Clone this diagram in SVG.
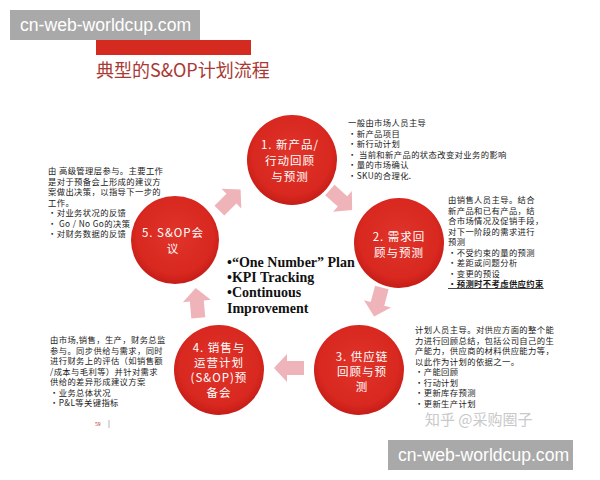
<svg xmlns="http://www.w3.org/2000/svg" width="600" height="480" viewBox="0 0 600 480">
<style>
.wm{fill:#a9a9a9}
.wmt{font-family:"Liberation Sans",Arial,sans-serif;font-size:17.6px;fill:#ffffff}
.title{font-family:"Noto Sans CJK SC",sans-serif;font-size:18px;fill:#a83a35}
.side{font-family:"Noto Sans CJK SC","Liberation Serif",serif;font-size:8.3px;fill:#1a1a1a;letter-spacing:0.4px}
.ct{font-family:"Noto Sans CJK SC","Liberation Serif",serif;font-size:11.5px;fill:#ffffff;text-anchor:middle;letter-spacing:1px}
.center{font-family:"Liberation Serif",serif;font-size:14px;font-weight:bold;fill:#111111}
.arr{fill:#eeb4ba}
.node circle{fill:url(#rg)}
</style>
<defs>
<radialGradient id="rg" cx="50%" cy="45%" r="55%">
<stop offset="0" stop-color="#e0342a"/>
<stop offset="0.8" stop-color="#d8281f"/>
<stop offset="1" stop-color="#c51d18"/>
</radialGradient>
<polygon id="ar" points="-15,-7 2,-7 2,-14 15,0 2,14 2,7 -15,7"/>
</defs>
<rect width="600" height="480" fill="#ffffff"/>
<rect x="96" y="40" width="155" height="15" fill="#d42a1f"/>
<text class="title" x="96" y="77">典型的S&amp;OP计划流程</text>

<g id="connectors">
<use href="#ar" class="arr" transform="translate(230,200) rotate(-45)"/>
<use href="#ar" class="arr" transform="translate(341,200) rotate(42)"/>
<use href="#ar" class="arr" transform="translate(378,302) rotate(105)"/>
<use href="#ar" class="arr" transform="translate(289,368) rotate(180)"/>
<use href="#ar" class="arr" transform="translate(197,303) rotate(-95)"/>
</g>

<g id="node1" class="node">
<circle cx="292" cy="160" r="45"/>
<text class="ct" x="290" y="149">1. 新产品/</text>
<text class="ct" x="290" y="165">行动回顾</text>
<text class="ct" x="290" y="181">与预测</text>
</g>
<g id="node2" class="node">
<circle cx="399" cy="243" r="45"/>
<text class="ct" x="399" y="241">2. 需求回</text>
<text class="ct" x="399" y="257">顾与预测</text>
</g>
<g id="node3" class="node">
<circle cx="359" cy="370" r="45"/>
<text class="ct" x="362" y="361">3. 供应链</text>
<text class="ct" x="362" y="376">回顾与预</text>
<text class="ct" x="362" y="391">测</text>
</g>
<g id="node4" class="node">
<circle cx="219" cy="370" r="45"/>
<text class="ct" x="219" y="352">4. 销售与</text>
<text class="ct" x="219" y="367">运营计划</text>
<text class="ct" x="219" y="382">(S&amp;OP)预</text>
<text class="ct" x="219" y="397">备会</text>
</g>
<g id="node5" class="node">
<circle cx="175" cy="240" r="44"/>
<text class="ct" x="173" y="237">5. S&amp;OP会</text>
<text class="ct" x="173" y="253">议</text>
</g>

<g id="center-text">
<text class="center" x="227" y="267">•“One Number” Plan</text>
<text class="center" x="227" y="282">•KPI Tracking</text>
<text class="center" x="227" y="297">•Continuous</text>
<text class="center" x="227" y="313">Improvement</text>
</g>

<g id="note1">
<text class="side" x="348" y="126">一般由市场人员主导</text>
<text class="side" x="348" y="136.5">•新产品项目</text>
<text class="side" x="348" y="147">•新行动计划</text>
<text class="side" x="348" y="157.5">• 当前和新产品的状态改变对业务的影响</text>
<text class="side" x="348" y="168">•量的市场确认</text>
<text class="side" x="348" y="178.5">•SKU的合理化.</text>
</g>
<g id="note5">
<text class="side" x="48" y="174">由 高级管理层参与。主要工作</text>
<text class="side" x="48" y="184.5">是对于预备会上形成的建议方</text>
<text class="side" x="48" y="195">案做出决策，以指导下一步的</text>
<text class="side" x="48" y="205.5">工作。</text>
<text class="side" x="48" y="216">•对业务状况的反馈</text>
<text class="side" x="48" y="226.5">• Go / No Go的决策</text>
<text class="side" x="48" y="237">•对财务数据的反馈</text>
</g>
<g id="note2">
<text class="side" x="448" y="203">由销售人员主导。结合</text>
<text class="side" x="448" y="213.5">新产品和已有产品，结</text>
<text class="side" x="448" y="224">合市场情况及促销手段，</text>
<text class="side" x="448" y="234.5">对下一阶段的需求进行</text>
<text class="side" x="448" y="245">预测</text>
<text class="side" x="448" y="255.5">•不受约束的量的预测</text>
<text class="side" x="448" y="266">•差距或问题分析</text>
<text class="side" x="448" y="276.5">•变更的预设</text>
<text class="side" x="448" y="287" font-weight="bold" text-decoration="underline">•预测时不考虑供应约束</text>
</g>
<g id="note4">
<text class="side" x="50" y="343">由市场,销售，生产，财务总监</text>
<text class="side" x="50" y="353.5">参与。同步供给与需求，同时</text>
<text class="side" x="50" y="364">进行财务上的评估（如销售额</text>
<text class="side" x="50" y="374.5">/成本与毛利等）并针对需求</text>
<text class="side" x="50" y="385">供给的差异形成建议方案</text>
<text class="side" x="50" y="395.5">•业务总体状况</text>
<text class="side" x="50" y="406">•P&amp;L等关键指标</text>
</g>
<g id="note3">
<text class="side" x="415" y="333">计划人员主导。对供应方面的整个能</text>
<text class="side" x="415" y="343.5">力进行回顾总结，包括公司自己的生</text>
<text class="side" x="415" y="354">产能力，供应商的材料供应能力等，</text>
<text class="side" x="415" y="364.5">以此作为计划的依据之一。</text>
<text class="side" x="415" y="375">•产能回顾</text>
<text class="side" x="415" y="385.5">•行动计划</text>
<text class="side" x="415" y="396">•更新库存预测</text>
<text class="side" x="415" y="406.5">•更新生产计划</text>
</g>

<text x="95" y="426" font-family="Liberation Serif,serif" font-size="5.5" fill="#b03030">59</text>
<line x1="109" y1="420" x2="109" y2="428" stroke="#999" stroke-width="0.7"/>
<text x="425" y="425" font-family="Noto Sans CJK SC,sans-serif" font-size="15" fill="#c9c9c9">知乎 @采购圈子</text>

<rect class="wm" x="10" y="10" width="190" height="30"/>
<text class="wmt" x="20" y="31">cn-web-worldcup.com</text>
<rect class="wm" x="388" y="440" width="185" height="30"/>
<text class="wmt" x="398" y="461">cn-web-worldcup.com</text>
</svg>
